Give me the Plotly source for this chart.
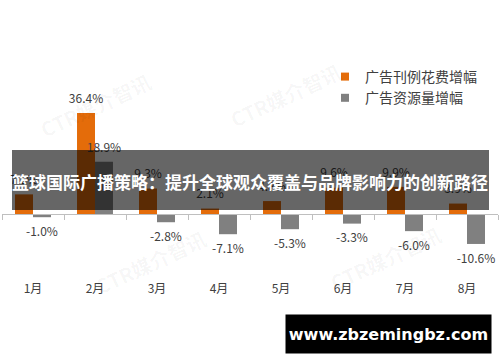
import plotly.graph_objects as go

# ---- data ----
months = ["1月", "2月", "3月", "4月", "5月", "6月", "7月", "8月"]
spend_growth = [7.2, 36.4, 9.3, 2.1, 4.8, 9.6, 9.9, 3.9]
resource_growth = [-1.0, 18.9, -2.8, -7.1, -5.3, -3.3, -6.0, -10.6]
series_names = ["广告刊例花费增幅", "广告资源量增幅"]
title_text = "篮球国际广播策略：提升全球观众覆盖与品牌影响力的创新路径"
site_text = "www.zbzemingbz.com"
watermark_text = "CTR媒介智讯"

# ---- style ----
W, H = 500, 362
ML, MR, MT, MB = 2, 2, 103, 103
Y_RANGE = [-16, 40]
ORANGE = "#E46C0A"
GRAY = "#808080"
LABEL_COLOR = "#404040"
FONT = "Noto Sans CJK SC"
GAP = 0.42

PW = W - ML - MR
PH = H - MT - MB


def px_x(p):
    return (p - ML) / PW


def px_y(p):
    return (H - MB - p) / PH


fig = go.Figure()

for name, vals, col, grp in [
    (series_names[0], spend_growth, ORANGE, "a"),
    (series_names[1], resource_growth, GRAY, "b"),
]:
    fig.add_trace(go.Bar(
        x=months, y=vals, marker=dict(color=col, line=dict(width=0)),
        offsetgroup=grp, showlegend=False, hoverinfo="skip",
    ))

for name, vals, col, grp in [
    (series_names[0], spend_growth, ORANGE, "a"),
    (series_names[1], resource_growth, GRAY, "b"),
]:
    fig.add_trace(go.Scatter(
        x=months, y=vals, mode="markers+text",
        text=[f"{v:.1f}%" for v in vals],
        textposition=["top center" if v >= 0 else "bottom center" for v in vals],
        textfont=dict(family=FONT, size=12, color=LABEL_COLOR),
        marker=dict(size=[10 if v >= 0 else 14 for v in vals], opacity=0),
        offsetgroup=grp, cliponaxis=False, showlegend=False, hoverinfo="skip",
    ))

# legend entries
for name, col in [(series_names[0], ORANGE), (series_names[1], GRAY)]:
    fig.add_trace(go.Scatter(
        x=[None], y=[None], mode="markers", name=name,
        marker=dict(symbol="square", size=8, color=col),
    ))

zero_pos = (0 - Y_RANGE[0]) / (Y_RANGE[1] - Y_RANGE[0])

annotations = []
# faint watermarks
for (wx, wy) in [(95, 105), (285, 95), (150, 262), (385, 258)]:
    annotations.append(dict(
        text=watermark_text, x=px_x(wx), y=px_y(wy), xref="paper", yref="paper",
        xanchor="center", yanchor="middle",
        showarrow=False, textangle=-25,
        font=dict(family=FONT, size=20, color="rgba(0,0,0,0.04)", weight="bold"),
    ))
# banner title
annotations.append(dict(
    text=title_text, x=px_x(250), y=px_y(181), xref="paper", yref="paper",
    xanchor="center", yanchor="middle",
    showarrow=False, font=dict(family=FONT, size=17, color="white", weight="bold"),
))
# site box
annotations.append(dict(
    text=site_text, x=px_x(388.5), y=px_y(334), xref="paper", yref="paper",
    xanchor="center", yanchor="middle",
    showarrow=False, bgcolor="black", width=201, height=34, borderpad=2,
    font=dict(family="DejaVu Sans", size=16, color="white", weight="bold"),
))

fig.update_layout(
    width=W, height=H,
    margin=dict(l=ML, r=MR, t=MT, b=MB, pad=0),
    paper_bgcolor="white", plot_bgcolor="white",
    barmode="group", bargap=GAP, bargroupgap=0,
    scattermode="group", scattergap=GAP,
    showlegend=True,
    legend=dict(
        x=px_x(325), y=px_y(61), xanchor="left", yanchor="top",
        font=dict(family=FONT, size=14, color="#404040"),
        bgcolor="rgba(0,0,0,0)", itemclick=False, tracegroupgap=0,
    ),
    xaxis=dict(
        type="category", anchor="free", position=zero_pos,
        showline=True, linecolor="#BFBFBF", linewidth=1,
        ticks="outside", tickson="boundaries", ticklen=5, tickcolor="#BFBFBF",
        showgrid=False, zeroline=False,
        ticklabelstandoff=63,
        tickfont=dict(family=FONT, size=12, color="#404040"),
    ),
    yaxis=dict(range=Y_RANGE, visible=False, showgrid=False, zeroline=False),
    shapes=[dict(
        type="rect", xref="paper", yref="paper",
        x0=px_x(12), x1=px_x(489), y0=px_y(210), y1=px_y(150),
        fillcolor="rgba(0,0,0,0.6)", line=dict(width=0), layer="above",
    )],
    annotations=annotations,
)

fig.write_html("out.html")
